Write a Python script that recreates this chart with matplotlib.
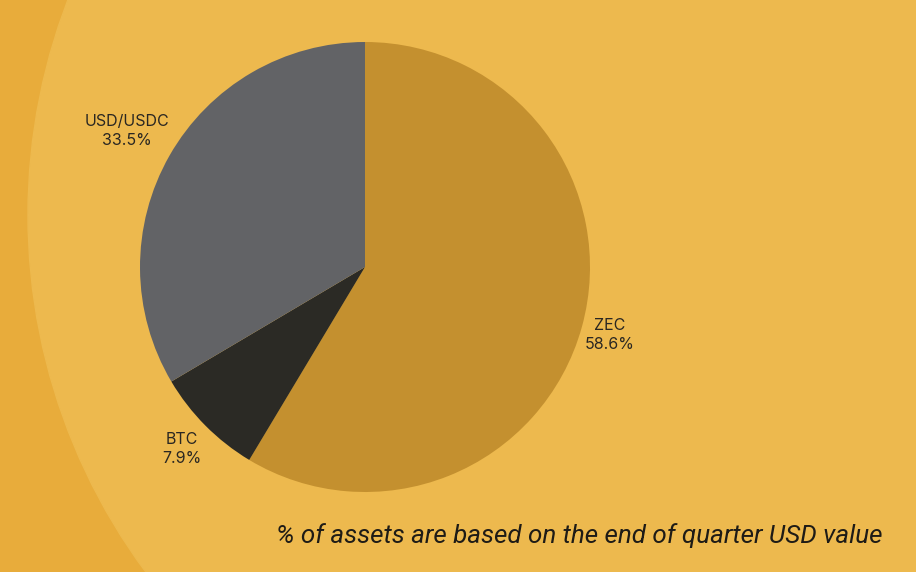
import numpy as np
import matplotlib.pyplot as plt
from matplotlib.patches import Circle

# asset split at end of quarter
assets = ["ZEC", "BTC", "USD/USDC"]
shares = [58.6, 7.9, 33.5]
colors = ["#C4902F", "#2B2A25", "#626366"]
label_dist = [1.13, 1.15, 1.22]
note = "% of assets are based on the end of quarter USD value"

fig = plt.figure(figsize=(9.16, 5.72), dpi=100)
fig.patch.set_facecolor("#E8AC3B")
ax = fig.add_axes([0, 0, 1, 1])

# big lighter disc behind the chart
ax.add_patch(Circle((628, 357), 600, color="#EDB94E", zorder=0))

cx, cy, r = 365, 305, 225
wedges, _ = ax.pie(shares, colors=colors, startangle=90, counterclock=False,
                   center=(cx, cy), radius=r, frame=True,
                   wedgeprops=dict(linewidth=0))
ax.set_xlim(0, 916)
ax.set_ylim(0, 572)
ax.set_aspect("equal")
ax.axis("off")

for w, name, val, d in zip(wedges, assets, shares, label_dist):
    ang = np.deg2rad((w.theta1 + w.theta2) / 2)
    x = cx + d * r * np.cos(ang)
    y = cy + d * r * np.sin(ang)
    ax.text(x, y, f"{name}\n{val:.1f}%", ha="center", va="center",
            multialignment="center", fontsize=11.5, color="#2A2722",
            family="Inter", linespacing=1.35)

ax.text(882, 36, note, ha="right", va="center", fontsize=18.7,
        style="italic", color="#1E1B16", family="Roboto")

plt.savefig("out.png", dpi=100, facecolor=fig.get_facecolor())
